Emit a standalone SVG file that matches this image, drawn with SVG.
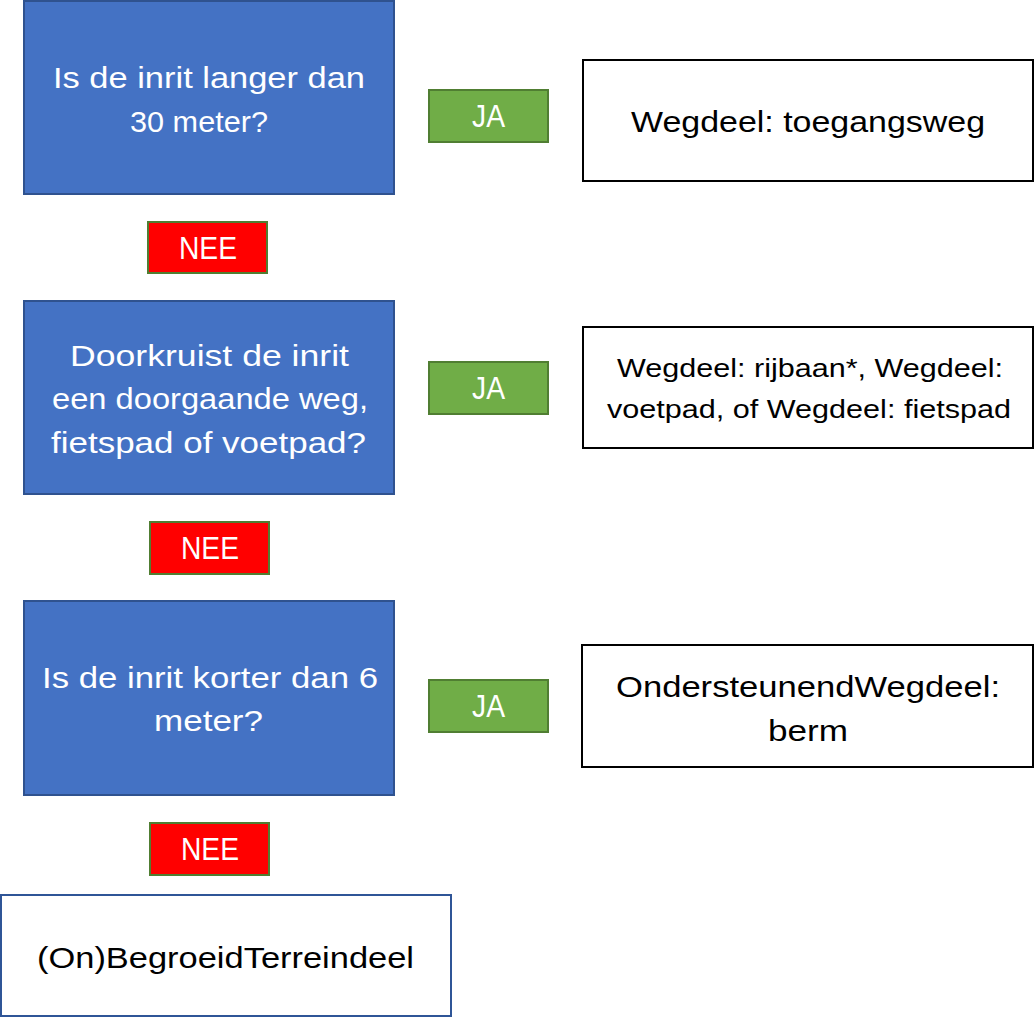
<svg xmlns="http://www.w3.org/2000/svg" width="1035" height="1018" viewBox="0 0 1035 1018">
<style>
text{font-family:"Liberation Sans",Arial,sans-serif;text-anchor:middle}
.q{fill:#4472C4;stroke:#2F528F;stroke-width:2}
.ja{fill:#70AD47;stroke:#507E32;stroke-width:2}
.nee{fill:#FF0000;stroke:#507E32;stroke-width:2}
.res{fill:#FFFFFF;stroke:#000000;stroke-width:2}
.fin{fill:#FFFFFF;stroke:#2F5597;stroke-width:2}
.wt{fill:#FFFFFF;font-size:29px}
.lt{fill:#FFFFFF;font-size:30.5px}
.bt{fill:#000000;font-size:29px}
.bs{fill:#000000;font-size:26px}
</style>
<rect width="1035" height="1018" fill="#FFFFFF"/>
<g id="connectors"></g>
<g id="q1"><rect class="q" x="24" y="1" width="370" height="193"/>
<text class="wt" x="209" y="88" textLength="312" lengthAdjust="spacingAndGlyphs">Is de inrit langer dan</text>
<text class="wt" x="199" y="132" textLength="138" lengthAdjust="spacingAndGlyphs">30 meter?</text></g>
<g id="ja1"><rect class="ja" x="429" y="90" width="119" height="52"/><text class="lt" x="488.5" y="127" textLength="33" lengthAdjust="spacingAndGlyphs">JA</text></g>
<g id="nee1"><rect class="nee" x="148" y="222" width="119" height="51"/><text class="lt" x="208" y="259" textLength="58" lengthAdjust="spacingAndGlyphs">NEE</text></g>
<g id="r1"><rect class="res" x="583" y="60" width="450" height="121"/><text class="bt" x="808" y="132" textLength="354" lengthAdjust="spacingAndGlyphs">Wegdeel: toegangsweg</text></g>
<g id="q2"><rect class="q" x="24" y="301" width="370" height="193"/>
<text class="wt" x="209.5" y="366" textLength="279" lengthAdjust="spacingAndGlyphs">Doorkruist de inrit</text>
<text class="wt" x="210" y="409" textLength="316" lengthAdjust="spacingAndGlyphs">een doorgaande weg,</text>
<text class="wt" x="208.5" y="453" textLength="315" lengthAdjust="spacingAndGlyphs">fietspad of voetpad?</text></g>
<g id="ja2"><rect class="ja" x="429" y="362" width="119" height="52"/><text class="lt" x="488.5" y="399" textLength="33" lengthAdjust="spacingAndGlyphs">JA</text></g>
<g id="nee2"><rect class="nee" x="150" y="522" width="119" height="52"/><text class="lt" x="210" y="559" textLength="58" lengthAdjust="spacingAndGlyphs">NEE</text></g>
<g id="r2"><rect class="res" x="583" y="327" width="450" height="121"/>
<text class="bs" x="810" y="377" textLength="386" lengthAdjust="spacingAndGlyphs">Wegdeel: rijbaan*, Wegdeel:</text>
<text class="bs" x="809" y="418" textLength="404" lengthAdjust="spacingAndGlyphs">voetpad, of Wegdeel: fietspad</text></g>
<g id="q3"><rect class="q" x="24" y="601" width="370" height="194"/>
<text class="wt" x="210" y="688" textLength="336" lengthAdjust="spacingAndGlyphs">Is de inrit korter dan 6</text>
<text class="wt" x="208.5" y="731" textLength="109" lengthAdjust="spacingAndGlyphs">meter?</text></g>
<g id="ja3"><rect class="ja" x="429" y="680" width="119" height="52"/><text class="lt" x="488.5" y="717" textLength="33" lengthAdjust="spacingAndGlyphs">JA</text></g>
<g id="nee3"><rect class="nee" x="150" y="823" width="119" height="52"/><text class="lt" x="210" y="860" textLength="58" lengthAdjust="spacingAndGlyphs">NEE</text></g>
<g id="r3"><rect class="res" x="582" y="645" width="451" height="122"/>
<text class="bt" x="808" y="697" textLength="384" lengthAdjust="spacingAndGlyphs">OndersteunendWegdeel:</text>
<text class="bt" x="808" y="741" textLength="80" lengthAdjust="spacingAndGlyphs">berm</text></g>
<g id="final"><rect class="fin" x="1" y="895" width="450" height="121"/>
<text class="bt" x="225.5" y="968" textLength="377" lengthAdjust="spacingAndGlyphs">(On)BegroeidTerreindeel</text></g>
</svg>
